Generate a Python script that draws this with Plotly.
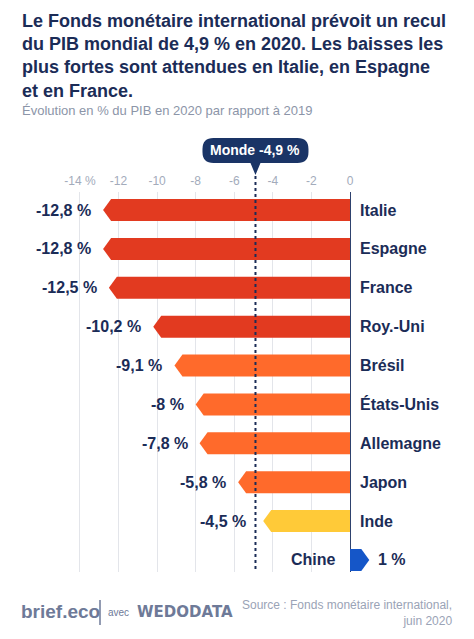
import plotly.graph_objects as go

countries = ["Italie", "Espagne", "France", "Roy.-Uni", "Brésil", "États-Unis",
             "Allemagne", "Japon", "Inde", "Chine"]
values = [-12.8, -12.8, -12.5, -10.2, -9.1, -8.0, -7.8, -5.8, -4.5, 1.0]
value_labels = ["-12,8 %", "-12,8 %", "-12,5 %", "-10,2 %", "-9,1 %", "-8 %",
                "-7,8 %", "-5,8 %", "-4,5 %", "1 %"]
colors = ["#E23A20", "#E23A20", "#E23A20", "#E23A20", "#FF6A2B", "#FF6A2B",
          "#FF6A2B", "#FF6A2B", "#FFCA38", "#1556C8"]
world_value = -4.9
world_label = "Monde -4,9 %"
tick_vals = [-14, -12, -10, -8, -6, -4, -2, 0]
tick_text = ["-14 %", "-12", "-10", "-8", "-6", "-4", "-2", "0"]
title_lines = ["Le Fonds monétaire international prévoit un recul",
               "du PIB mondial de 4,9 % en 2020. Les baisses les",
               "plus fortes sont attendues en Italie, en Espagne",
               "et en France."]
subtitle = "Évolution en % du PIB en 2020 par rapport à 2019"
source = "Source : Fonds monétaire international,<br>juin 2020"

W, H = 474, 639
PX_PER_X = 19.29
X0_PX = 350
x_min = -X0_PX / PX_PER_X
x_max = (W - X0_PX) / PX_PER_X

NAVY = "#1B2C57"
FONT = "Liberation Sans, Arial, Helvetica, sans-serif"

def py(px):
    return 1 - px / H

fig = go.Figure()

half = 0.283
tip = 8 / PX_PER_X
for i, (v, c) in enumerate(zip(values, colors)):
    if v < 0:
        xs = [0, v + tip, v, v + tip, 0, 0]
    else:
        xs = [0, v - tip, v, v - tip, 0, 0]
    ys = [i - half, i - half, i, i + half, i + half, i - half]
    fig.add_trace(go.Scatter(x=xs, y=ys, fill="toself", fillcolor=c, mode="lines",
                             line=dict(width=0, color=c), hoverinfo="skip",
                             showlegend=False))

# labels
for i, (name, v, lab) in enumerate(zip(countries, values, value_labels)):
    if v < 0:
        shift = -10
        if v > world_value - 0.6:
            shift = -15
        fig.add_annotation(x=v, y=i, text=f"<b>{lab}</b>", showarrow=False,
                           xanchor="right", yanchor="middle", xshift=shift,
                           font=dict(size=16, color=NAVY, family=FONT))
        fig.add_annotation(x=0, y=i, text=f"<b>{name}</b>", showarrow=False,
                           xanchor="left", yanchor="middle", xshift=8,
                           font=dict(size=16, color=NAVY, family=FONT))
    else:
        fig.add_annotation(x=v, y=i, text=f"<b>{lab}</b>", showarrow=False,
                           xanchor="left", yanchor="middle", xshift=7,
                           font=dict(size=16, color=NAVY, family=FONT))
        fig.add_annotation(x=0, y=i, text=f"<b>{name}</b>", showarrow=False,
                           xanchor="right", yanchor="middle", xshift=-12,
                           font=dict(size=16, color=NAVY, family=FONT))

# world dotted line
fig.add_shape(type="line", xref="x", yref="paper", x0=world_value, x1=world_value,
              y0=py(176), y1=py(572), line=dict(color=NAVY, width=2, dash="dot"))

# world callout box
bw = 53 / PX_PER_X
r = 11 / PX_PER_X
ry = 11 / H
yt, yb = py(138), py(163)
xl, xr = world_value - bw, world_value + bw
pw = 5 / PX_PER_X
path = (f"M {xl + r},{yt} L {xr - r},{yt} Q {xr},{yt} {xr},{yt - ry} "
        f"L {xr},{yb + ry} Q {xr},{yb} {xr - r},{yb} "
        f"L {world_value + pw},{yb} L {world_value},{py(175)} L {world_value - pw},{yb} "
        f"L {xl + r},{yb} Q {xl},{yb} {xl},{yb + ry} L {xl},{yt - ry} Q {xl},{yt} {xl + r},{yt} Z")
fig.add_shape(type="path", xref="x", yref="paper", path=path,
              fillcolor="#1A3466", line=dict(width=0))
fig.add_annotation(x=world_value, y=py(150.5), xref="x", yref="paper",
                   text=f"<b>{world_label}</b>", showarrow=False,
                   xanchor="center", yanchor="middle",
                   font=dict(size=14, color="white", family=FONT))

# title & subtitle
for k, line in enumerate(title_lines):
    fig.add_annotation(x=20 / W, y=py(20.5 + 23.5 * k), xref="paper", yref="paper",
                       xanchor="left", yanchor="middle", showarrow=False,
                       text=f"<b>{line}</b>",
                       font=dict(size=18, color=NAVY, family=FONT))
fig.add_annotation(x=20 / W, y=py(110), xref="paper", yref="paper", xanchor="left",
                   yanchor="middle", showarrow=False, text=subtitle,
                   font=dict(size=13, color="#8C95A8", family=FONT))

# footer
fig.add_annotation(x=19 / W, y=py(611), xref="paper", yref="paper", xanchor="left",
                   yanchor="middle", showarrow=False, text="<b>brief.eco</b>",
                   font=dict(size=19, color="#6E7A98", family=FONT))
fig.add_shape(type="line", xref="paper", yref="paper", x0=100 / W, x1=100 / W,
              y0=py(600), y1=py(625), line=dict(color="#6E7A98", width=1.5))
fig.add_annotation(x=106 / W, y=py(612), xref="paper", yref="paper", xanchor="left",
                   yanchor="middle", showarrow=False, text="avec",
                   font=dict(size=10, color="#6E7A98", family=FONT))
fig.add_annotation(x=135 / W, y=py(612), xref="paper", yref="paper", xanchor="left",
                   yanchor="middle", showarrow=False, text="<b>WEDODATA</b>",
                   font=dict(size=15, color="#6E7A98", family="DejaVu Sans, sans-serif"))
fig.add_annotation(x=454 / W, y=py(613), xref="paper", yref="paper", xanchor="right",
                   yanchor="middle", showarrow=False, align="right", text=source,
                   font=dict(size=12, color="#9AA3B6", family=FONT))

fig.update_layout(
    width=W, height=H, margin=dict(l=0, r=0, t=0, b=0),
    paper_bgcolor="white", plot_bgcolor="white",
    xaxis=dict(range=[x_min, x_max], side="top", tickvals=tick_vals, ticktext=tick_text,
               showgrid=True, gridcolor="#E3E5EA", gridwidth=1,
               zeroline=True, zerolinecolor="#2E426E", zerolinewidth=1,
               showline=False, ticks="", ticklabelstandoff=4,
               tickfont=dict(size=12, color="#A3ABBB", family=FONT),
               fixedrange=True),
    yaxis=dict(domain=[py(572), py(192)], range=[9.31, -0.463], showgrid=False,
               zeroline=False, showticklabels=False, fixedrange=True),
)

fig.write_html("out.html", config={"displayModeBar": False},
               post_script="document.body.style.margin='0';")
